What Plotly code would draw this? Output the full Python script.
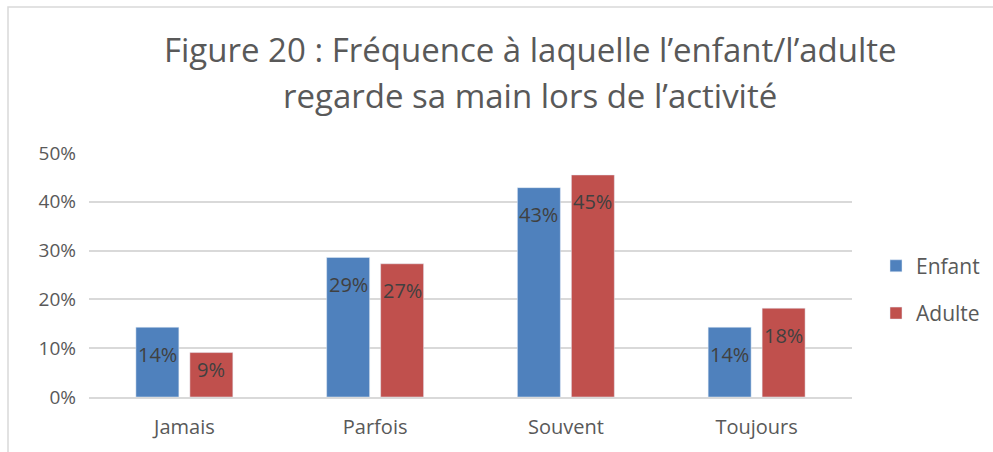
import plotly.graph_objects as go

categories = ["Jamais", "Parfois", "Souvent", "Toujours"]
enfant = [0.143, 0.286, 0.429, 0.143]
adulte = [0.091, 0.273, 0.455, 0.182]
enfant_labels = ["14%", "29%", "43%", "14%"]
adulte_labels = ["9%", "27%", "45%", "18%"]
title_line1 = "Figure 20 : Fréquence à laquelle l’enfant/l’adulte"
title_line2 = "regarde sa main lors de l’activité"
y_ticks = [0, 0.1, 0.2, 0.3, 0.4, 0.5]

FONT = "Open Sans"
GRAY = "#595959"
W, H = 993, 452
L, R, T, B = 89, 141, 153, 55
plot_h = H - T - B
ymax = 0.5
px_per_unit = plot_h / ymax

fig = go.Figure()
fig.add_trace(go.Bar(name="Enfant", x=categories, y=enfant, marker_color="#4F81BD",
                     legendgroup="a"))
fig.add_trace(go.Bar(name="Adulte", x=categories, y=adulte, marker_color="#C0504D",
                     legendgroup="b"))

annotations = []
for series, labels, xs in ((enfant, enfant_labels, -27), (adulte, adulte_labels, 27)):
    for c, v, lab in zip(categories, series, labels):
        hpx = v * px_per_unit
        shift = min(27, hpx - 27)
        annotations.append(dict(x=c, y=v, xref="x", yref="y", text=lab, showarrow=False,
                                xshift=xs, yshift=-shift, yanchor="middle",
                                font=dict(family=FONT, size=20, color="#404040")))

plot_w = W - L - R
def px_to_paper_y(py):
    return (H - B - py) / plot_h
def px_to_paper_x(px):
    return (px - L) / plot_w

cx = px_to_paper_x(530)
annotations.append(dict(x=cx, y=px_to_paper_y(50), xref="paper", yref="paper", text=title_line1,
                        showarrow=False, xanchor="center", yanchor="middle",
                        font=dict(family=FONT, size=33, color=GRAY)))
annotations.append(dict(x=cx, y=px_to_paper_y(95), xref="paper", yref="paper", text=title_line2,
                        showarrow=False, xanchor="center", yanchor="middle",
                        font=dict(family=FONT, size=33, color=GRAY)))

fig.update_layout(
    width=W, height=H,
    margin=dict(l=L, r=R, t=T, b=B, autoexpand=False),
    paper_bgcolor="white", plot_bgcolor="white",
    barmode="group", bargap=0.434, bargroupgap=0.204,
    showlegend=True,
    legend=dict(x=px_to_paper_x(876), y=0.44, xanchor="left", yanchor="middle",
                traceorder="grouped", tracegroupgap=17,
                font=dict(family=FONT, size=21, color=GRAY)),
    annotations=annotations,
    shapes=[dict(type="rect", xref="paper", yref="paper",
                 x0=px_to_paper_x(8), x1=px_to_paper_x(1010),
                 y0=px_to_paper_y(470), y1=px_to_paper_y(7),
                 line=dict(color="#D9D9D9", width=1.5), layer="below")],
)
fig.update_yaxes(range=[0, ymax], tickvals=y_ticks, tickformat=".0%", showgrid=True,
                 gridcolor="#D9D9D9", gridwidth=1.5, zeroline=False, showline=False,
                 tickfont=dict(family=FONT, size=19, color=GRAY), ticklabelstandoff=12)
fig.update_xaxes(showline=True, linecolor="#D9D9D9", linewidth=1.5, ticks="",
                 tickfont=dict(family=FONT, size=20, color=GRAY), ticklabelstandoff=11)

fig.write_html("out.html", config={"displayModeBar": False},
               post_script="document.body.style.margin='0';document.body.style.overflow='hidden';")
